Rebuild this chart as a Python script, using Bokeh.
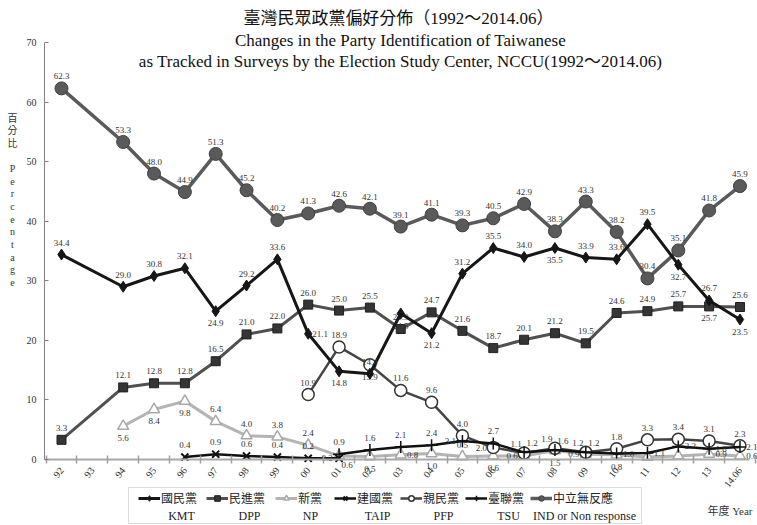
from bokeh.plotting import figure
from bokeh.models import (Range1d, FixedTicker, Label, Legend, LegendItem,
                          ColumnDataSource, BoxAnnotation)
from bokeh.core.properties import value
from bokeh.embed import file_html
from bokeh.resources import INLINE

# ---------------- data ----------------
years = ["92", "93", "94", "95", "96", "97", "98", "99", "00", "01", "02", "03",
         "04", "05", "06", "07", "08", "09", "10", "11", "12", "13", "14.06"]

kmt = [34.4, None, 29.0, 30.8, 32.1, 24.9, 29.2, 33.6, 21.1, 14.8, 14.4, 24.5,
       21.2, 31.2, 35.5, 34.0, 35.5, 33.9, 33.6, 39.5, 32.7, 26.7, 23.5]
dpp = [3.3, None, 12.1, 12.8, 12.8, 16.5, 21.0, 22.0, 26.0, 25.0, 25.5, 21.9,
       24.7, 21.6, 18.7, 20.1, 21.2, 19.5, 24.6, 24.9, 25.7, 25.7, 25.6]
np_ = [None, None, 5.6, 8.4, 9.8, 6.4, 4.0, 3.8, 2.4, 0.6, 0.5, 0.8,
       1.0, 0.5, 0.6, 0.6, 1.5, 0.9, 0.8, 0.4, 0.6, 0.9, 0.6]
taip = [None, None, None, None, 0.4, 0.9, 0.6, 0.4, 0.2, 0.2, None, None,
        None, None, None, None, None, None, None, None, None, None, None]
pfp = [None, None, None, None, None, None, None, None, 10.9, 18.9, 15.9, 11.6,
       9.6, 4.0, 2.0, 1.1, 1.9, 1.2, 1.8, 3.3, 3.4, 3.1, 2.3]
tsu = [None, None, None, None, None, None, None, None, None, 0.9, 1.6, 2.1,
       2.4, 3.1, 2.7, 1.2, 1.6, 1.2, 1.0, 1.1, 2.2, 1.8, 2.1]
ind = [62.3, None, 53.3, 48.0, 44.9, 51.3, 45.2, 40.2, 41.3, 42.6, 42.1, 39.1,
       41.1, 39.3, 40.5, 42.9, 38.3, 43.3, 38.2, 30.4, 35.1, 41.8, 45.9]
y_ticks = [0, 10, 20, 30, 40, 50, 60, 70]

legend_cn = ["國民黨", "民進黨", "新黨", "建國黨", "親民黨", "臺聯黨", "中立無反應"]
legend_en = ["KMT", "DPP", "NP", "TAIP", "PFP", "TSU", "IND or Non response"]

title_cn = "臺灣民眾政黨偏好分佈（1992～2014.06）"
title_en1 = "Changes in the Party Identification of Taiwanese"
title_en2 = "as Tracked in Surveys by the Election Study Center, NCCU(1992～2014.06)"
y_label = "百\n分\n比\n\nP\ne\nr\nc\ne\nn\nt\na\ng\ne"
x_label = "年度 Year"

# ---------------- layout / style ----------------
W, H = 757, 525
X0, DX = 61.0, 30.84      # pixel of first category, pixels per category
Y0, DY = 459.0, 5.957     # pixel of value 0, pixels per unit

def px2x(px):
    return (px - X0) / DX

def px2y(py):
    return (Y0 - py) / DY

place = {
    "ind": "a " * 22,
    "kmt": "a a a a b a a r b a b b a a a b a a a b a b",
    "dpp": "a a a a a a a a a a a a a a a a a a a a b a",
    "np": "b b b a a a a br b r b a b l b l b n n r r",
    "taip": "a a a a a l",
    "pfp": "a a b a a a l al al al a a a a a",
    "tsu": "a a a a l a ar ar ar r r r r r",
}
offs = {"a": (0, -12), "b": (0, 12), "l": (-12, 0), "r": (12, 0),
        "al": (-8, -9), "ar": (8, -9), "bl": (-8, 9), "br": (8, 9)}

SERIF = "'Liberation Serif', 'Noto Sans CJK TC'"
CJK = "'Noto Sans CJK TC'"

p = figure(width=W, height=H, output_backend="svg", toolbar_location=None,
           x_range=Range1d(px2x(0), px2x(W)), y_range=Range1d(px2y(H), px2y(0)),
           min_border=0)
p.outline_line_color = None
p.xgrid.visible = False
p.ygrid.visible = False
p.background_fill_color = "white"

# x axis (drawn at value 0 inside the frame)
xa = p.xaxis[0]
xa.fixed_location = 0
xa.bounds = (px2x(44), px2x(749))
xa.ticker = FixedTicker(ticks=list(range(len(years))),
                        minor_ticks=[i - 0.5 for i in range(len(years) + 1)])
xa.major_label_overrides = {i: y for i, y in enumerate(years)}
xa.major_tick_line_color = None
xa.minor_tick_in = 4
xa.minor_tick_out = 4
xa.minor_tick_line_color = "#a0a0a0"
xa.minor_tick_line_width = 1.5
xa.axis_line_color = "#a8a8a8"
xa.axis_line_width = 2
xa.major_label_orientation = 0.9
xa.major_label_standoff = 3
xa.major_label_text_font = SERIF
xa.major_label_text_font_size = "10px"
xa.major_label_text_color = "#333333"

# y axis
ya = p.yaxis[0]
ya.fixed_location = px2x(44)
ya.bounds = (0, 70)
ya.ticker = FixedTicker(ticks=y_ticks)
ya.major_tick_in = 4
ya.major_tick_out = 0
ya.minor_tick_line_color = None
ya.axis_line_color = "#808080"
ya.major_tick_line_color = "#808080"
ya.major_label_standoff = 8
ya.major_label_text_font = SERIF
ya.major_label_text_font_size = "10px"
ya.major_label_text_color = "#333333"

def pts(vals):
    xs = [i for i, v in enumerate(vals) if v is not None]
    ys = [v for v in vals if v is not None]
    return xs, ys

series = {}

def draw(key, vals, lcolor, lwidth, marker, msize, mfill, mline, mlw):
    xs, ys = pts(vals)
    src = ColumnDataSource(dict(x=xs, y=ys))
    lr = p.line("x", "y", source=src, line_color=lcolor, line_width=lwidth)
    mr = p.scatter("x", "y", source=src, marker=marker, size=msize,
                   fill_color=mfill, line_color=mline, line_width=mlw)
    series[key] = (lr, mr)
    codes = place[key].split()
    lx, ly, lt, dx, dy = [], [], [], [], []
    for x, y, c in zip(xs, ys, codes):
        if c == "n":
            continue
        lx.append(x); ly.append(y); lt.append(f"{y:.1f}")
        dx.append(offs[c][0]); dy.append(offs[c][1])
    p.text(x=lx, y=ly, text=lt, x_offset=dx, y_offset=dy,
           text_font=value(SERIF), text_font_size="9px", text_color="#333333",
           text_align="center", text_baseline="middle")

draw("ind", ind, "#5a5a5a", 3.5, "circle", 13, "#5a5a5a", "#404040", 1)
draw("dpp", dpp, "#505050", 3, "square", 9, "#353535", "#202020", 1)
draw("np", np_, "#b4b4b4", 3, "triangle", 11, "white", "#a8a8a8", 1.5)
draw("taip", taip, "#111111", 2.5, "x", 10, None, "#111111", 2)
draw("pfp", pfp, "#444444", 2.5, "circle", 12, "white", "#333333", 1.5)
draw("tsu", tsu, "#111111", 2.5, "cross", 12, None, "#111111", 1.5)
draw("kmt", kmt, "#161616", 3, "diamond", 11, "#161616", "#161616", 1)

# legend frame
p.add_layout(BoxAnnotation(left=px2x(128), right=px2x(641), top=px2y(487), bottom=px2y(523),
                           fill_color="white", fill_alpha=1,
                           line_color="#8a8a8a", line_width=1, level="annotation"))

order = ["kmt", "dpp", "np", "taip", "pfp", "tsu", "ind"]
glyph_x = [138, 206, 275, 334, 400, 465, 530]
en_x = [181, 249, 310, 377, 443, 508, 584]
for k, cn, gx in zip(order, legend_cn, glyph_x):
    lg = Legend(items=[LegendItem(label=cn, renderers=list(series[k]))],
                location=(gx, H - 506), orientation="horizontal",
                border_line_color=None, background_fill_alpha=0,
                padding=0, spacing=0, margin=0, glyph_width=22, glyph_height=14,
                label_height=14, label_standoff=1,
                label_text_font=CJK, label_text_font_size="12px",
                label_text_color="#222222")
    p.add_layout(lg)

for t, xx in zip(legend_en, en_x):
    p.add_layout(Label(x=xx, y=H - 515, x_units="screen", y_units="screen", text=t,
                       text_font=SERIF, text_font_size="12px", text_color="#222222",
                       text_align="center", text_baseline="middle"))

p.add_layout(Label(x=752, y=H - 510, x_units="screen", y_units="screen", text=x_label,
                   text_font=SERIF, text_font_size="11px", text_color="#333333",
                   text_align="right", text_baseline="middle"))

# titles
p.add_layout(Label(x=398, y=H - 18, x_units="screen", y_units="screen", text=title_cn,
                   text_font=SERIF, text_font_size="17px", text_color="#111111",
                   text_align="center", text_baseline="middle"))
p.add_layout(Label(x=400, y=H - 40, x_units="screen", y_units="screen", text=title_en1,
                   text_font=SERIF, text_font_size="17px", text_color="#111111",
                   text_align="center", text_baseline="middle"))
p.add_layout(Label(x=400, y=H - 61, x_units="screen", y_units="screen", text=title_en2,
                   text_font=SERIF, text_font_size="17px", text_color="#111111",
                   text_align="center", text_baseline="middle"))

# y label (stacked characters)
p.add_layout(Label(x=12, y=H - 112, x_units="screen", y_units="screen", text=y_label,
                   text_font=SERIF, text_font_size="10px", text_color="#333333",
                   text_align="center", text_baseline="top", text_line_height=1.15))

open("out.html", "w").write(file_html(p, INLINE))
